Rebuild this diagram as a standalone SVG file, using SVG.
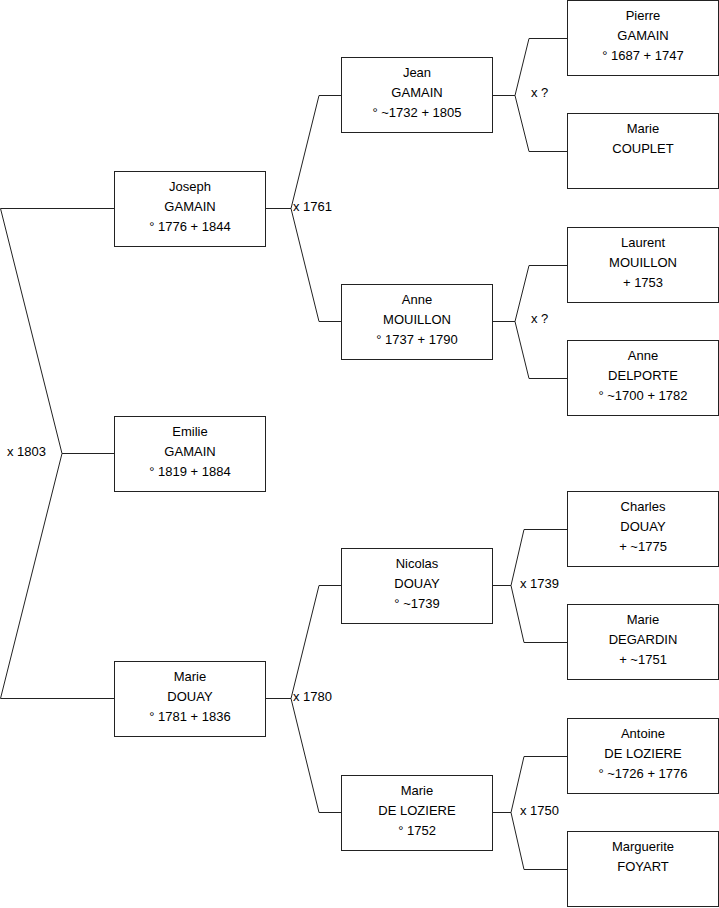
<svg xmlns="http://www.w3.org/2000/svg" width="719" height="908" viewBox="0 0 719 908">
<style>
rect.box{fill:#fff;stroke:#222;stroke-width:1}
text{font-family:"Liberation Sans",Arial,sans-serif;font-size:13px;fill:#000}
text.c{text-anchor:middle}
.conn path{fill:none;stroke:#222;stroke-width:1}
</style>
<rect width="719" height="908" fill="#fff"/>
<g class="conn" id="connectors">
<path d="M0.5,208.5 H114 M0.5,208.5 L62,453.5 L0.5,698.5 H114 M62,453.5 H114"/>
<path d="M265,208.5 H291 M319,95.5 L291,208.5 L319,321.5 M319,95.5 H341 M319,321.5 H341"/>
<path d="M265,698.5 H291 M319,585.5 L291,698.5 L319,812.5 M319,585.5 H341 M319,812.5 H341"/>
<path d="M492,95.5 H515 M529,38.5 L515,95.5 L529,151.5 M529,38.5 H567 M529,151.5 H567"/>
<path d="M492,321.5 H515 M529,265.5 L515,321.5 L529,378.5 M529,265.5 H567 M529,378.5 H567"/>
<path d="M492,585.5 H511 M524,529.5 L511,585.5 L524,642.5 M524,529.5 H567 M524,642.5 H567"/>
<path d="M492,812.5 H511 M524,756.5 L511,812.5 L524,869.5 M524,756.5 H567 M524,869.5 H567"/>
<text x="7" y="456">x 1803</text>
<text x="293" y="211">x 1761</text>
<text x="293" y="701">x 1780</text>
<text x="531" y="97">x ?</text>
<text x="531" y="323">x ?</text>
<text x="520" y="588">x 1739</text>
<text x="520" y="815">x 1750</text>
</g>
<g id="joseph"><rect class="box" x="114.5" y="171.5" width="151" height="75"/><text class="c" x="190" y="191">Joseph</text><text class="c" x="190" y="211">GAMAIN</text><text class="c" x="190" y="231">° 1776 + 1844</text></g>
<g id="emilie"><rect class="box" x="114.5" y="416.5" width="151" height="75"/><text class="c" x="190" y="436">Emilie</text><text class="c" x="190" y="456">GAMAIN</text><text class="c" x="190" y="476">° 1819 + 1884</text></g>
<g id="marie-douay"><rect class="box" x="114.5" y="661.5" width="151" height="75"/><text class="c" x="190" y="681">Marie</text><text class="c" x="190" y="701">DOUAY</text><text class="c" x="190" y="721">° 1781 + 1836</text></g>
<g id="jean"><rect class="box" x="341.5" y="57.5" width="151" height="75"/><text class="c" x="417" y="77">Jean</text><text class="c" x="417" y="97">GAMAIN</text><text class="c" x="417" y="117">° ~1732 + 1805</text></g>
<g id="anne-mouillon"><rect class="box" x="341.5" y="284.5" width="151" height="75"/><text class="c" x="417" y="304">Anne</text><text class="c" x="417" y="324">MOUILLON</text><text class="c" x="417" y="344">° 1737 + 1790</text></g>
<g id="nicolas"><rect class="box" x="341.5" y="548.5" width="151" height="75"/><text class="c" x="417" y="568">Nicolas</text><text class="c" x="417" y="588">DOUAY</text><text class="c" x="417" y="608">° ~1739</text></g>
<g id="marie-deloziere"><rect class="box" x="341.5" y="775.5" width="151" height="75"/><text class="c" x="417" y="795">Marie</text><text class="c" x="417" y="815">DE LOZIERE</text><text class="c" x="417" y="835">° 1752</text></g>
<g id="pierre"><rect class="box" x="567.5" y="0.5" width="151" height="75"/><text class="c" x="643" y="20">Pierre</text><text class="c" x="643" y="40">GAMAIN</text><text class="c" x="643" y="60">° 1687 + 1747</text></g>
<g id="marie-couplet"><rect class="box" x="567.5" y="113.5" width="151" height="75"/><text class="c" x="643" y="133">Marie</text><text class="c" x="643" y="153">COUPLET</text></g>
<g id="laurent"><rect class="box" x="567.5" y="227.5" width="151" height="75"/><text class="c" x="643" y="247">Laurent</text><text class="c" x="643" y="267">MOUILLON</text><text class="c" x="643" y="287">+ 1753</text></g>
<g id="anne-delporte"><rect class="box" x="567.5" y="340.5" width="151" height="75"/><text class="c" x="643" y="360">Anne</text><text class="c" x="643" y="380">DELPORTE</text><text class="c" x="643" y="400">° ~1700 + 1782</text></g>
<g id="charles"><rect class="box" x="567.5" y="491.5" width="151" height="75"/><text class="c" x="643" y="511">Charles</text><text class="c" x="643" y="531">DOUAY</text><text class="c" x="643" y="551">+ ~1775</text></g>
<g id="marie-degardin"><rect class="box" x="567.5" y="604.5" width="151" height="75"/><text class="c" x="643" y="624">Marie</text><text class="c" x="643" y="644">DEGARDIN</text><text class="c" x="643" y="664">+ ~1751</text></g>
<g id="antoine"><rect class="box" x="567.5" y="718.5" width="151" height="75"/><text class="c" x="643" y="738">Antoine</text><text class="c" x="643" y="758">DE LOZIERE</text><text class="c" x="643" y="778">° ~1726 + 1776</text></g>
<g id="marguerite"><rect class="box" x="567.5" y="831.5" width="151" height="75"/><text class="c" x="643" y="851">Marguerite</text><text class="c" x="643" y="871">FOYART</text></g>
</svg>
